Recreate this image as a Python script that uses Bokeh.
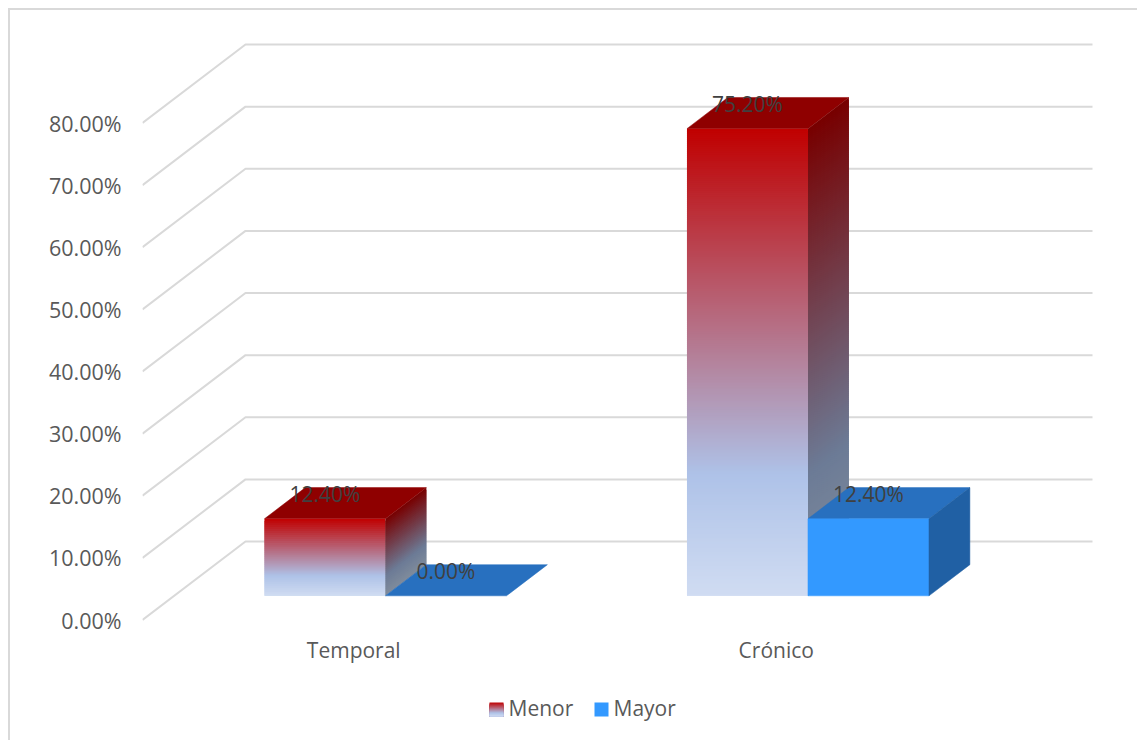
from bokeh.plotting import figure
from bokeh.models import FixedTicker, Range1d
from bokeh.core.properties import value
from bokeh.embed import file_html
from bokeh.resources import INLINE

categories = ["Temporal", "Crónico"]
series_names = ["Menor", "Mayor"]
menor = [12.4, 75.2]
mayor = [0.0, 12.4]
menor_labels = ["12.40%", "75.20%"]
mayor_labels = ["0.00%", "12.40%"]
y_ticks = [0, 10, 20, 30, 40, 50, 60, 70, 80]
y_labels = ["0.00%", "10.00%", "20.00%", "30.00%", "40.00%", "50.00%", "60.00%", "70.00%", "80.00%"]

FONT = "Open Sans"
W, H = 1129, 732
BORDER = 2
LEFT, TOP, RIGHT, BOTTOM = 132, 28, 45, 12   # frame margins inside the canvas
PX_X = 422.5     # pixels per category
PX_Y = 6.2125    # pixels per percent
X_ORIGIN = 142   # page pixel of x=0.5
Y_ORIGIN = 619.5 # page pixel of y=0
fx0, fx1 = 8 + BORDER + LEFT, 8 + BORDER + W - RIGHT
fy0, fy1 = 8 + BORDER + TOP, 8 + BORDER + H - BOTTOM


def xd(px):
    return 0.5 + (px - X_ORIGIN) / PX_X


def yd(px):
    return (Y_ORIGIN - px) / PX_Y


p = figure(width=W, height=H, output_backend="svg", toolbar_location=None,
           x_range=Range1d(xd(fx0), xd(fx1)), y_range=Range1d(yd(fy1), yd(fy0)),
           min_border_left=LEFT, min_border_right=RIGHT, min_border_top=TOP, min_border_bottom=BOTTOM,
           outline_line_color=None, background_fill_color="white", border_fill_color="white")
p.styles = {"border-left": "2px solid #d9d9d9", "border-top": "2px solid #d9d9d9", "box-sizing": "border-box",
            "margin-left": "8px", "margin-top": "8px"}
p.grid.visible = False

DX = 103 / PX_X
DY = 78.5 / PX_Y
BAR_W = 121 / PX_X
Z0, Z1 = 0.308, 0.705

# walls and back gridlines
xs_grid, ys_grid = [], []
for t in y_ticks:
    xs_grid.append([0.5, 0.5 + DX, xd(1092)])
    ys_grid.append([t, t + DY, t + DY])
p.multi_line(xs_grid, ys_grid, line_color="#d9d9d9", line_width=2)


def mix(stops, t):
    for (a, ca), (b, cb) in zip(stops, stops[1:]):
        if t <= b:
            f = (t - a) / (b - a)
            c = [round(ca[i] + (cb[i] - ca[i]) * f) for i in range(3)]
            return "#%02x%02x%02x" % tuple(c)
    return "#%02x%02x%02x" % tuple(stops[-1][1])


FRONT = [(0, (0xc0, 0x00, 0x00)), (0.74, (0xae, 0xc2, 0xe8)), (1, (0xd0, 0xdc, 0xf2))]
SIDE = [(0, (0x78, 0x00, 0x00)), (0.74, (0x6c, 0x7b, 0x96)), (1, (0x80, 0x8c, 0x9c))]


def draw_solid(x0, v, front, top, side):
    x1 = x0 + BAR_W
    bx = DX * (Z1 - Z0)
    by = DY * (Z1 - Z0)
    base = DY * Z0
    p.patch([x0, x1, x1 + bx, x0 + bx], [base + v, base + v, base + v + by, base + v + by],
            fill_color=top, line_color=top, line_width=0.5)
    if v > 0:
        p.quad(left=[x0], right=[x1], bottom=[base], top=[base + v], fill_color=front, line_color=front, line_width=0.5)
        p.patch([x1, x1 + bx, x1 + bx, x1], [base, base + by, base + by + v, base + v],
                fill_color=side, line_color=side, line_width=0.5)


def draw_gradient(x0, v, top):
    x1 = x0 + BAR_W
    bx = DX * (Z1 - Z0)
    by = DY * (Z1 - Z0)
    base = DY * Z0
    p.patch([x0, x1, x1 + bx, x0 + bx], [base + v, base + v, base + v + by, base + v + by],
            fill_color=top, line_color=top, line_width=0.5)
    n = max(int(v * PX_Y / 2), 2)
    step = v / n
    tops, lows, cols, sx, sy, scols = [], [], [], [], [], []
    # each slice overlaps the next ones a little, so no seams and no stacked edge colour
    for i in range(n):
        t = (i + 0.5) / n
        hi = base + v * (1 - i / n)
        lo = max(base, hi - 2 * step)
        tops.append(hi)
        lows.append(lo)
        cols.append(mix(FRONT, t))
        sx.append([x1, x1 + bx, x1 + bx, x1])
        sy.append([lo, lo + by, hi + by, hi])
        scols.append(mix(SIDE, t))
    p.quad(left=[x0] * n, right=[x1] * n, bottom=lows, top=tops, fill_color=cols, line_color=None)
    p.patches(sx, sy, fill_color=scols, line_color=None)


lab_x, lab_y, lab_t = [], [], []
for i, cat in enumerate(categories):
    c = i + 1 + DX * Z0
    draw_gradient(c - BAR_W, menor[i], "#8f0000")
    draw_solid(c, mayor[i], "#3399ff", "#2870bf", "#2060a4")
    lab_x += [c - BAR_W / 2, c + BAR_W / 2]
    lab_y += [menor[i] + DY * Z0, mayor[i] + DY * Z0]
    lab_t += [menor_labels[i], mayor_labels[i]]

p.text(lab_x, lab_y, text=lab_t, text_font=value(FONT), text_font_size="21px", text_color="#404040",
       text_align="center", text_baseline="middle", y_offset=-25)

# legend
sw_x = [489, 594]
tx_x = [508, 613]
n = 14
p.quad(left=[xd(sw_x[0])] * n, right=[xd(sw_x[0] + 14)] * n,
       bottom=[yd(716)] * n, top=[yd(702 + i) for i in range(n)],
       fill_color=[mix(FRONT, (i + 0.5) / n) for i in range(n)], line_color=None)
p.quad(left=[xd(sw_x[1])], right=[xd(sw_x[1] + 14)], bottom=[yd(716)], top=[yd(702)],
       fill_color="#3399ff", line_color=None)
p.text([xd(v) for v in tx_x], [yd(707)] * 2, text=series_names, text_font=value(FONT), text_font_size="21px",
       text_color="#595959", text_align="left", text_baseline="middle")

# axes
xa = p.xaxis[0]
xa.ticker = FixedTicker(ticks=[1, 2])
xa.major_label_overrides = {1: categories[0], 2: categories[1]}
xa.axis_line_color = None
xa.major_tick_line_color = None
xa.minor_tick_line_color = None
xa.major_label_text_font = FONT
xa.major_label_text_font_size = "21px"
xa.major_label_text_color = "#595959"
xa.major_label_standoff = -101

ya = p.yaxis[0]
ya.ticker = FixedTicker(ticks=y_ticks)
ya.major_label_overrides = dict(zip(y_ticks, y_labels))
ya.axis_line_color = None
ya.major_tick_line_color = None
ya.minor_tick_line_color = None
ya.major_label_text_font = FONT
ya.major_label_text_font_size = "21.5px"
ya.major_label_text_color = "#595959"
ya.major_label_standoff = 15

open("out.html", "w").write(file_html(p, INLINE))
